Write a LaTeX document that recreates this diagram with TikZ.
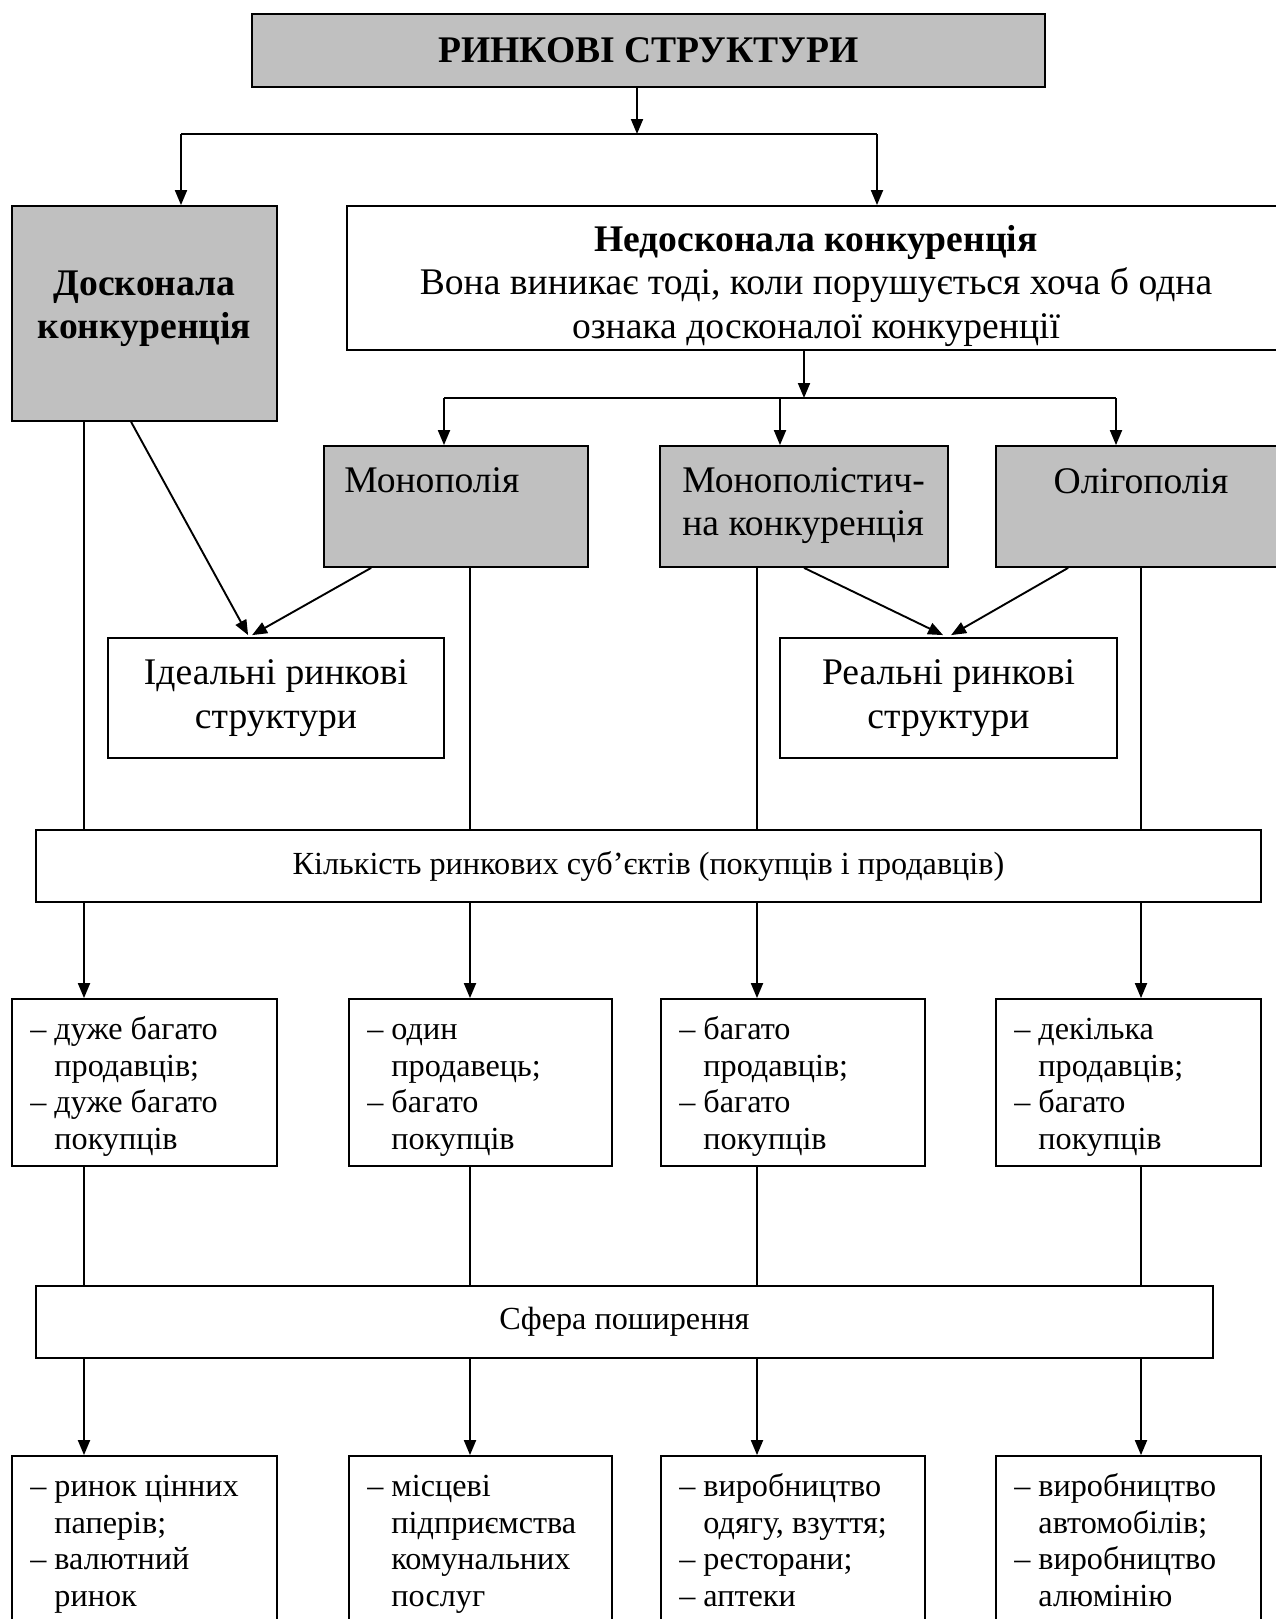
\documentclass[tikz,border=0pt]{standalone}
\usepackage{fontspec}
\setmainfont{Liberation Serif}
\usetikzlibrary{arrows.meta,calc}
\newcommand{\fbig}{\fontsize{37.6}{43.5}\selectfont}
\newcommand{\fsm}{\fontsize{32.2}{36.7}\selectfont}
\newcommand{\myind}{\hphantom{–}\ }
\newcommand{\firstln}{\rule{0pt}{30pt}}
\definecolor{boxgray}{RGB}{192,192,192}
\begin{document}
\begin{tikzpicture}[x=1pt,y=-1pt,
  box/.style={draw, line width=1.8pt, rectangle, inner sep=0pt},
  gbox/.style={box, fill=boxgray},
  arr/.style={-{Triangle[length=15pt,width=12pt]}, line width=1.9pt},
  hln/.style={line width=1.9pt},
  ln/.style={line width=1.3pt},
  lst/.style={anchor=north west, inner sep=0pt, align=left, font=\fsm},
  bigtxt/.style={inner sep=0pt, align=center, font=\fbig}]
\useasboundingbox (0,0) rectangle (1276,1619);
\clip (0,0) rectangle (1276,1619);
\fill[white] (0,0) rectangle (1276,1619);

% boxes
\node[gbox, minimum width=793pt, minimum height=73pt, font=\fbig\bfseries] (title) at (648.5,50.5) {РИНКОВІ СТРУКТУРИ};
\node[gbox, minimum width=265pt, minimum height=215pt] (dosk) at (144.5,313.5) {};
\node[box, minimum width=938pt, minimum height=144pt] (nedosk) at (816,278) {};
\node[gbox, minimum width=264pt, minimum height=121pt] (mono) at (456,506.5) {};
\node[gbox, minimum width=288pt, minimum height=121pt] (mpc) at (804,506.5) {};
\node[gbox, minimum width=290pt, minimum height=121pt] (olig) at (1141,506.5) {};
\node[box, minimum width=336pt, minimum height=120pt] (ideal) at (276,698) {};
\node[box, minimum width=337pt, minimum height=120pt] (real) at (948.5,698) {};
\node[box, minimum width=1225pt, minimum height=72pt, font=\fsm] (kil) at (648.5,866) {Кількість ринкових суб’єктів (покупців і продавців)};
\node[box, minimum width=265pt, minimum height=167pt] (r1a) at (144.5,1082.5) {};
\node[box, minimum width=263pt, minimum height=167pt] (r1b) at (480.5,1082.5) {};
\node[box, minimum width=264pt, minimum height=167pt] (r1c) at (793,1082.5) {};
\node[box, minimum width=265pt, minimum height=167pt] (r1d) at (1128.5,1082.5) {};
\node[box, minimum width=1177pt, minimum height=72pt, font=\fsm] (sfera) at (624.5,1322) {Сфера поширення};
\node[box, minimum width=265pt, minimum height=224pt] (r2a) at (144.5,1568) {};
\node[box, minimum width=263pt, minimum height=224pt] (r2b) at (480.5,1568) {};
\node[box, minimum width=264pt, minimum height=224pt] (r2c) at (793,1568) {};
\node[box, minimum width=265pt, minimum height=224pt] (r2d) at (1128.5,1568) {};

% texts
\node[bigtxt, font=\fbig\bfseries] (dosktxt) at ($(dosk.center)+(0,-5)$) {Досконала\\конкуренція};
\node[bigtxt] (nedosktxt) at ($(nedosk.center)+(0,8)$) {\textbf{Недосконала конкуренція}\\Вона виникає тоді, коли порушується хоча б одна\\ознака досконалої конкуренції};
\node[bigtxt, anchor=north west, align=left] (monotxt) at ($(mono.north west)+(21,17)$) {\rule{0pt}{30pt}Монополія};
\node[bigtxt, anchor=north west, align=left] (mpctxt) at ($(mpc.north west)+(23,17)$) {\rule{0pt}{30pt}Монополістич-\\на конкуренція};
\node[bigtxt, anchor=base] (oligtxt) at (1141,493) {Олігополія};
\node[bigtxt] (idealtxt) at ($(ideal.center)+(0,0)$) {Ідеальні ринкові\\структури};
\node[bigtxt] (realtxt) at ($(real.center)+(0,0)$) {Реальні ринкові\\структури};

\node[lst] (t1a) at ($(r1a.north west)+(19,11)$) {\firstln– дуже багато\\\myind продавців;\\– дуже багато\\\myind покупців};
\node[lst] (t1b) at ($(r1b.north west)+(19,11)$) {\firstln– один\\\myind продавець;\\– багато\\\myind покупців};
\node[lst] (t1c) at ($(r1c.north west)+(19,11)$) {\firstln– багато\\\myind продавців;\\– багато\\\myind покупців};
\node[lst] (t1d) at ($(r1d.north west)+(19,11)$) {\firstln– декілька\\\myind продавців;\\– багато\\\myind покупців};
\node[lst] (t2a) at ($(r2a.north west)+(19,11)$) {\firstln– ринок цінних\\\myind паперів;\\– валютний\\\myind ринок};
\node[lst] (t2b) at ($(r2b.north west)+(19,11)$) {\firstln– місцеві\\\myind підприємства\\\myind комунальних\\\myind послуг};
\node[lst] (t2c) at ($(r2c.north west)+(19,11)$) {\firstln– виробництво\\\myind одягу, взуття;\\– ресторани;\\– аптеки};
\node[lst] (t2d) at ($(r2d.north west)+(19,11)$) {\firstln– виробництво\\\myind автомобілів;\\– виробництво\\\myind алюмінію};

% coordinates
\coordinate (t1) at (637,134);
\coordinate (h1l) at (181,134);
\coordinate (h1r) at (877,134);
\coordinate (n1) at (804,398);
\coordinate (h2l) at (444,398);
\coordinate (h2m) at (780,398);
\coordinate (h2r) at (1116,398);
\coordinate (c1) at (84,0);
\coordinate (c2) at (470,0);
\coordinate (c3) at (757,0);
\coordinate (c4) at (1141,0);

% connectors
\draw[arr] (t1 |- title.south) -- (t1);
\draw[hln] (h1l) -- (h1r);
\draw[arr] (h1l) -- (h1l |- dosk.north);
\draw[arr] (h1r) -- (h1r |- nedosk.north);
\draw[arr] (n1 |- nedosk.south) -- (n1);
\draw[hln] (h2l) -- (h2r);
\draw[arr] (h2l) -- (h2l |- mono.north);
\draw[arr] (h2m) -- (h2m |- mpc.north);
\draw[arr] (h2r) -- (h2r |- olig.north);

\draw[arr] ($(dosk.south west)+(120,0)$) -- ($(ideal.north west)+(141,-2)$);
\draw[arr] ($(mono.south west)+(48,0)$) -- ($(ideal.north west)+(145,-2)$);
\draw[arr] ($(mpc.south west)+(145,0)$) -- ($(real.north west)+(164,-2)$);
\draw[arr] ($(olig.south west)+(73,0)$) -- ($(real.north west)+(172,-2)$);

\draw[ln] (c1 |- dosk.south) -- (c1 |- kil.north);
\draw[ln] (c2 |- mono.south) -- (c2 |- kil.north);
\draw[ln] (c3 |- mpc.south) -- (c3 |- kil.north);
\draw[ln] (c4 |- olig.south) -- (c4 |- kil.north);

\draw[arr] (c1 |- kil.south) -- (c1 |- r1a.north);
\draw[arr] (c2 |- kil.south) -- (c2 |- r1b.north);
\draw[arr] (c3 |- kil.south) -- (c3 |- r1c.north);
\draw[arr] (c4 |- kil.south) -- (c4 |- r1d.north);

\draw[ln] (c1 |- r1a.south) -- (c1 |- sfera.north);
\draw[ln] (c2 |- r1b.south) -- (c2 |- sfera.north);
\draw[ln] (c3 |- r1c.south) -- (c3 |- sfera.north);
\draw[ln] (c4 |- r1d.south) -- (c4 |- sfera.north);

\draw[arr] (c1 |- sfera.south) -- (c1 |- r2a.north);
\draw[arr] (c2 |- sfera.south) -- (c2 |- r2b.north);
\draw[arr] (c3 |- sfera.south) -- (c3 |- r2c.north);
\draw[arr] (c4 |- sfera.south) -- (c4 |- r2d.north);
\end{tikzpicture}
\end{document}
